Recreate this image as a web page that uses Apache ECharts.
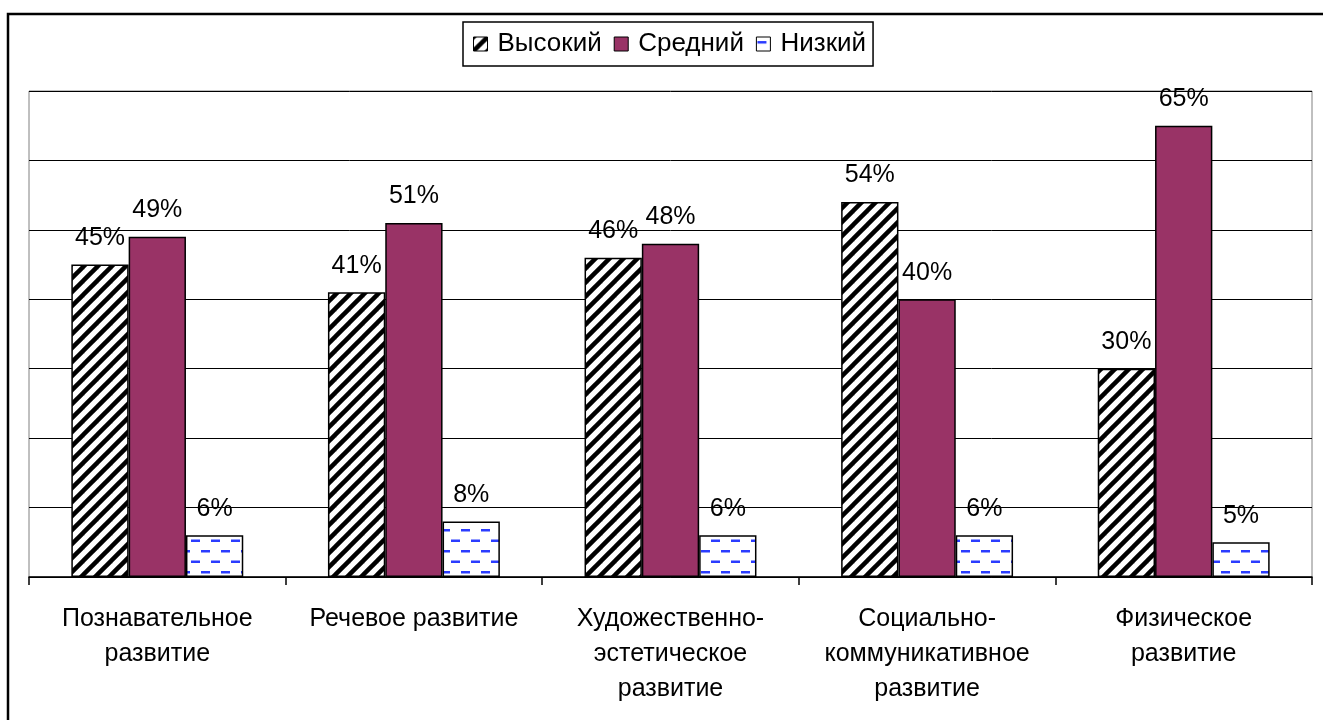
<!DOCTYPE html>
<html>
<head>
<meta charset="utf-8">
<script src="https://cdn.jsdelivr.net/npm/echarts@6/dist/echarts.min.js"></script>
<style>
    html,body{margin:0;padding:0;background:#fff;}
    #chart{width:1323px;height:720px;}
</style>
</head>
<body>
<div id="chart"></div>
<script>
var categories=['Познавательное\nразвитие','Речевое развитие','Художественно-\nэстетическое\nразвитие','Социально-\nкоммуникативное\nразвитие','Физическое\nразвитие'];
var seriesNames=['Высокий','Средний','Низкий'];
var highValues=[45,41,46,54,30];
var midValues=[49,51,48,40,65];
var lowValues=[6,8,6,6,5];

var FONT='Liberation Sans';

// штриховка для "Высокий"
function hatchPattern(){
    var c=document.createElement('canvas'),s=14;
    c.width=s;c.height=s;
    var ctx=c.getContext('2d');
    ctx.fillStyle='#fff';
    ctx.fillRect(0,0,s,s);
    ctx.strokeStyle='#000';
    ctx.lineWidth=4.5;
    [[0,s,s,0],[-s/2,s/2,s/2,-s/2],[s/2,s*1.5,s*1.5,s/2]].forEach(function(l){
        ctx.beginPath();
        ctx.moveTo(l[0],l[1]);
        ctx.lineTo(l[2],l[3]);
        ctx.stroke();
    });
    return c;
}
// пунктир для "Низкий"
function dashPattern(){
    var c=document.createElement('canvas');
    c.width=20;c.height=21;
    var ctx=c.getContext('2d');
    ctx.fillStyle='#fff';
    ctx.fillRect(0,0,20,21);
    ctx.fillStyle='#2b3cff';
    ctx.fillRect(1,4,9,2.5);
    ctx.fillRect(11,14.5,9,2.5);
    return c;
}

var chart=echarts.init(document.getElementById('chart'));
var label={
    show:true,
    position:'top',
    distance:14,
    formatter:'{c}%',
    color:'#000',
    fontFamily:FONT,
    fontSize:25
};
var itemBase={borderColor:'#000',borderWidth:1.5};

chart.setOption({
    animation:false,
    backgroundColor:'#fff',
    graphic:[{
        type:'rect',
        shape:{x:8,y:14,width:1400,height:800},
        style:{fill:null,stroke:'#000',lineWidth:2.5},
        silent:true
    }],
    legend:{
        data:seriesNames,
        icon:'rect',
        left:463,
        top:22,
        padding:[9,7,9,10],
        itemWidth:14,
        itemHeight:14,
        itemGap:12,
        borderColor:'#000',
        borderWidth:1.5,
        itemStyle:{borderColor:'#000',borderWidth:1},
        textStyle:{color:'#000',fontFamily:FONT,fontSize:26,padding:[0,0,0,5]}
    },
    grid:{
        left:29,
        right:11,
        top:91,
        bottom:143,
        show:true,
        borderColor:'#808080',
        borderWidth:1
    },
    xAxis:{
        type:'category',
        data:categories,
        axisLine:{lineStyle:{color:'#000',width:1.5}},
        axisTick:{show:true,length:8,lineStyle:{color:'#000',width:1.5}},
        axisLabel:{color:'#000',fontFamily:FONT,fontSize:25,lineHeight:35,margin:25,interval:0}
    },
    yAxis:{
        type:'value',
        min:0,
        max:70,
        interval:10,
        axisLine:{show:false},
        axisTick:{show:false},
        axisLabel:{show:false},
        splitLine:{lineStyle:{color:'#000',width:1}}
    },
    series:[
        {
            name:seriesNames[0],
            type:'bar',
            data:highValues,
            barGap:'0%',
            barCategoryGap:'33%',
            itemStyle:Object.assign({color:{image:hatchPattern(),repeat:'repeat'}},itemBase),
            label:label
        },
        {
            name:seriesNames[1],
            type:'bar',
            data:midValues,
            barGap:'0%',
            barCategoryGap:'33%',
            itemStyle:Object.assign({color:'#993366'},itemBase),
            label:label
        },
        {
            name:seriesNames[2],
            type:'bar',
            data:lowValues,
            barGap:'0%',
            barCategoryGap:'33%',
            itemStyle:Object.assign({color:{image:dashPattern(),repeat:'repeat'}},itemBase),
            label:label
        }
    ]
});
</script>
</body>
</html>
